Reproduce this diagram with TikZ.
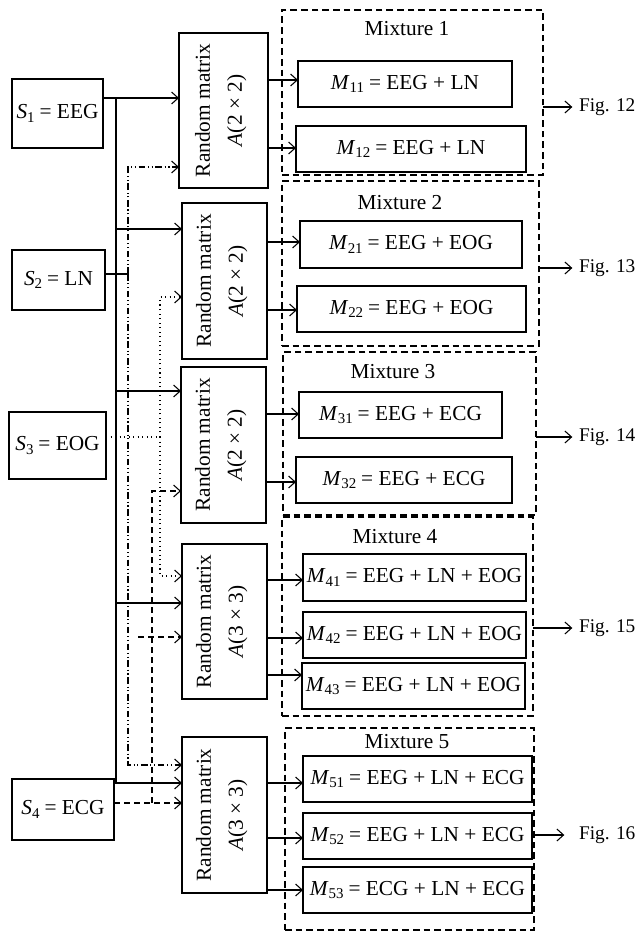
\documentclass[tikz,border=0pt]{standalone}
\usepackage{fontspec}
\setmainfont{Liberation Serif}
\usetikzlibrary{arrows.meta}
\newcommand\cbox[7]{\node[#1, minimum width={(#5-#3)*0.75pt}, minimum height={(#6-#4)*0.75pt}] (#2) at ({(#3+#5)/2},{(#4+#6)/2}) {#7};}
\newcommand\Msub[2]{\textit{#1}\textsubscript{#2}\hspace{0.2em}}
\begin{document}
\begin{tikzpicture}[x=0.75pt,y=-0.75pt, line width=0.8pt,
  every node/.style={font=\fontsize{16}{24}\selectfont, inner sep=0pt, outer sep=0pt},
  blk/.style={draw},
  mixbox/.style={draw, dash pattern=on 5pt off 3pt},
  figlbl/.style={anchor=west, font=\fontsize{14.5}{17}\selectfont},
  arr/.style={-{Straight Barb[length=5pt,width=9pt]}},
  lnl/.style={dash pattern=on 5pt off 2pt on 0.8pt off 2pt on 0.8pt off 2pt},
  eogl/.style={dash pattern=on 0.8pt off 2.6pt},
  ecgl/.style={dash pattern=on 4.5pt off 3pt},
  ln/.style={arr, lnl},
  eog/.style={arr, eogl},
  ecg/.style={arr, ecgl},
  rmtext/.style={rotate=90, align=center}
  ]
\useasboundingbox (0,0) rectangle (639,932);

% sources
\cbox{blk}{s1}{12}{79}{103}{148}{\Msub{S}{1}= EEG}
\cbox{blk}{s2}{12}{250}{105}{310}{\Msub{S}{2}= LN}
\cbox{blk}{s3}{9}{412}{106}{479}{\Msub{S}{3}= EOG}
\cbox{blk}{s4}{12}{779}{114}{840}{\Msub{S}{4}= ECG}

% random matrices
\cbox{blk}{rm1}{179}{33}{268}{188}{}
\cbox{blk}{rm2}{182}{203}{267}{359}{}
\cbox{blk}{rm3}{181}{367}{266}{523}{}
\cbox{blk}{rm4}{182}{544}{267}{699}{}
\cbox{blk}{rm5}{182}{737}{267}{893}{}
\node[rmtext] (rm1t) at ([xshift=-2pt]rm1.center) {Random matrix\\\textit{A}(2 × 2)};
\node[rmtext] (rm2t) at ([xshift=-2pt]rm2.center) {Random matrix\\\textit{A}(2 × 2)};
\node[rmtext] (rm3t) at ([xshift=-2pt]rm3.center) {Random matrix\\\textit{A}(2 × 2)};
\node[rmtext] (rm4t) at ([xshift=-2pt]rm4.center) {Random matrix\\\textit{A}(3 × 3)};
\node[rmtext] (rm5t) at ([xshift=-2pt]rm5.center) {Random matrix\\\textit{A}(3 × 3)};

% mixture groups
\cbox{mixbox}{mix1}{282}{10}{543}{175}{}
\cbox{mixbox}{mix2}{282}{181}{539}{346}{}
\cbox{mixbox}{mix3}{283}{352}{536}{515}{}
\cbox{mixbox}{mix4}{282}{517}{533}{716}{}
\cbox{mixbox}{mix5}{285}{728}{534}{930}{}
\node (mix1t) at (407,29) {Mixture 1};
\node (mix2t) at (400,203) {Mixture 2};
\node (mix3t) at (393,372) {Mixture 3};
\node (mix4t) at (395,537) {Mixture 4};
\node (mix5t) at (407,742) {Mixture 5};

% mixtures
\cbox{blk}{m11}{298}{61}{512}{107}{\Msub{M}{11}= EEG + LN}
\cbox{blk}{m12}{296}{126}{526}{172}{\Msub{M}{12}= EEG + LN}
\cbox{blk}{m21}{300}{221}{522}{268}{\Msub{M}{21}= EEG + EOG}
\cbox{blk}{m22}{297}{286}{526}{332}{\Msub{M}{22}= EEG + EOG}
\cbox{blk}{m31}{299}{392}{502}{438}{\Msub{M}{31}= EEG + ECG}
\cbox{blk}{m32}{296}{457}{512}{503}{\Msub{M}{32}= EEG + ECG}
\cbox{blk}{m41}{303}{554}{526}{601}{\Msub{M}{41}= EEG + LN + EOG}
\cbox{blk}{m42}{303}{612}{526}{658}{\Msub{M}{42}= EEG + LN + EOG}
\cbox{blk}{m43}{302}{663}{525}{709}{\Msub{M}{43}= EEG + LN + EOG}
\cbox{blk}{m51}{303}{756}{532}{802}{\Msub{M}{51}= EEG + LN + ECG}
\cbox{blk}{m52}{303}{813}{532}{859}{\Msub{M}{52}= EEG + LN + ECG}
\cbox{blk}{m53}{303}{867}{532}{913}{\Msub{M}{53}= ECG + LN + ECG}

% outputs of random matrices
\draw[arr] (rm1.east |- 0,80) -- (m11.west |- 0,80);
\draw[arr] (rm1.east |- 0,148) -- (m12.west |- 0,148);
\draw[arr] (rm2.east |- 0,242) -- (m21.west |- 0,242);
\draw[arr] (rm2.east |- 0,310) -- (m22.west |- 0,310);
\draw[arr] (rm3.east |- 0,414) -- (m31.west |- 0,414);
\draw[arr] (rm3.east |- 0,482) -- (m32.west |- 0,482);
\draw[arr] (rm4.east |- 0,580) -- (m41.west |- 0,580);
\draw[arr] (rm4.east |- 0,638) -- (m42.west |- 0,638);
\draw[arr] (rm4.east |- 0,675) -- (m43.west |- 0,675);
\draw[arr] (rm5.east |- 0,783) -- (m51.west |- 0,783);
\draw[arr] (rm5.east |- 0,838) -- (m52.west |- 0,838);
\draw[arr] (rm5.east |- 0,890) -- (m53.west |- 0,890);

% figure references
\node[figlbl] (f12) at (579,107) {Fig. 12};
\node[figlbl] (f13) at (579,268) {Fig. 13};
\node[figlbl] (f14) at (579,437) {Fig. 14};
\node[figlbl] (f15) at (579,628) {Fig. 15};
\node[figlbl] (f16) at (579,835) {Fig. 16};
\draw[arr] (mix1.east |- f12.west) -- ([xshift=-5pt]f12.west);
\draw[arr] (mix2.east |- f13.west) -- ([xshift=-5pt]f13.west);
\draw[arr] (mix3.east |- f14.west) -- ([xshift=-5pt]f14.west);
\draw[arr] (mix4.east |- f15.west) -- ([xshift=-5pt]f15.west);
\draw[arr] (m52.east |- f16.west) -- ([xshift=-11pt]f16.west);

% EEG (solid)
\coordinate (eegv) at (116,98);
\draw[arr] (s1.east |- eegv) -- (rm1.west |- eegv);
\draw[arr] (eegv) |- (rm5.west |- 0,783);
\draw[arr] (eegv |- 0,229) -- (rm2.west |- 0,229);
\draw[arr] (eegv |- 0,391) -- (rm3.west |- 0,391);
\draw[arr] (eegv |- 0,603) -- (rm4.west |- 0,603);

% LN (dash dot dot)
\coordinate (lnj) at (128,274);
\draw (s2.east |- lnj) -- (lnj);
\draw[ln] (lnj) |- (rm1.west |- 0,167);
\draw[ln] (lnj) |- (rm5.west |- 0,765);

% EOG (dotted)
\coordinate (eogj) at (160,437);
\draw[eogl] (s3.east |- eogj) -- (eogj);
\draw[eog] (eogj) |- (rm2.west |- 0,297);
\draw[eog] (eogj) |- (rm4.west |- 0,576);

% ECG (dashed)
\coordinate (ecgj) at (152,803);
\draw[ecg] (s4.east |- ecgj) -- (rm5.west |- ecgj);
\draw[ecg] (ecgj) |- (rm3.west |- 0,491);
\coordinate (ecg4) at (138,637);
\draw[ecg] (ecg4) -- (rm4.west |- ecg4);
\end{tikzpicture}
\end{document}
